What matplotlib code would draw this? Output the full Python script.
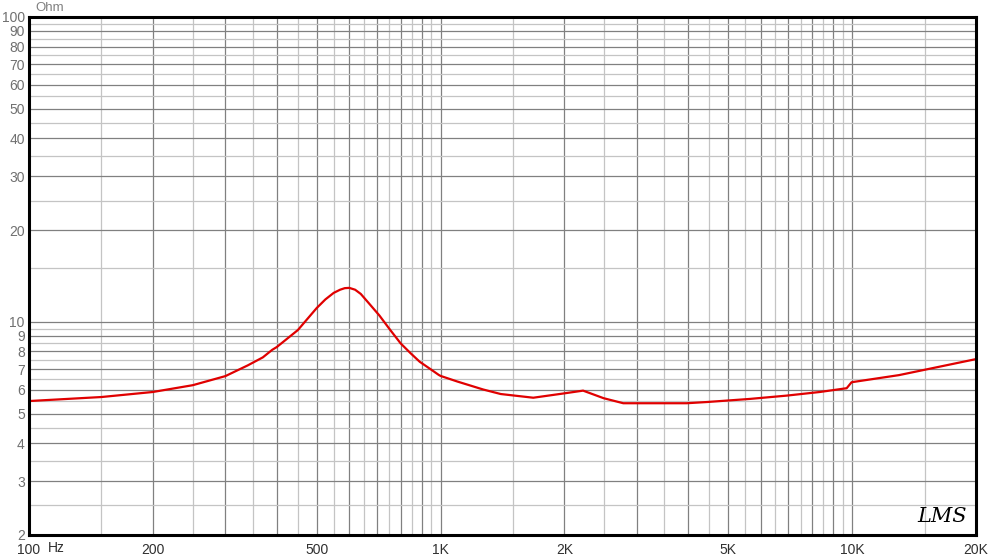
import matplotlib

matplotlib.use("Agg")
import matplotlib.pyplot as plt
import numpy as np
from matplotlib.ticker import FixedLocator, FuncFormatter, NullFormatter

# Impedance curve (Hz, Ohm)
freq = [100, 150, 200, 250, 300, 340, 370, 390, 400, 450, 500, 525, 550,
        570, 585, 600, 620, 640, 670, 710, 755, 800, 845, 890, 945, 990,
        1000, 1100, 1270, 1400, 1680, 2000, 2220, 2490, 2780, 3960, 4440,
        5650, 6930, 8350, 9700, 9970, 13000, 20000]
ohm = [5.50, 5.67, 5.89, 6.2, 6.64, 7.2, 7.65, 8.1, 8.27, 9.4, 11.1, 11.85,
       12.45, 12.75, 12.9, 12.93, 12.75, 12.35, 11.5, 10.5, 9.4, 8.5, 7.9,
       7.4, 7.0, 6.7, 6.65, 6.37, 6.0, 5.8, 5.64, 5.83, 5.95, 5.62, 5.41,
       5.41, 5.46, 5.59, 5.73, 5.89, 6.06, 6.34, 6.69, 7.55]

x_labels = {100: "100", 200: "200", 500: "500", 1000: "1K", 2000: "2K",
            5000: "5K", 10000: "10K", 20000: "20K"}
y_labels = [2, 3, 4, 5, 6, 7, 8, 9, 10, 20, 30, 40, 50, 60, 70, 80, 90, 100]

# grid: dark lines on 1-2-3..9 steps, light ones on the half steps
x_major = [d * m for d in (100, 1000, 10000) for m in range(1, 10) if d * m <= 20000]
x_minor = [d * (m + 0.5) for d in (100, 1000, 10000) for m in range(1, 10) if d * (m + 0.5) < 20000]
y_major = [d * m for d in (1, 10) for m in range(1, 10) if 2 <= d * m <= 100] + [100]
y_minor = [d * (m + 0.5) for d in (1, 10) for m in range(1, 10) if 2 < d * (m + 0.5) < 100]

plt.rcParams["font.family"] = ["Liberation Sans", "DejaVu Sans"]

fig = plt.figure(figsize=(9.95, 5.58), dpi=100)
ax = fig.add_axes([29 / 995, 23 / 558, 947 / 995, 518 / 558])

ax.set_xscale("log")
ax.set_yscale("log")
ax.set_xlim(100, 20000)
ax.set_ylim(2, 100)

ax.xaxis.set_major_locator(FixedLocator(x_major))
ax.xaxis.set_minor_locator(FixedLocator(x_minor))
ax.yaxis.set_major_locator(FixedLocator(y_major))
ax.yaxis.set_minor_locator(FixedLocator(y_minor))
ax.xaxis.set_major_formatter(FuncFormatter(lambda v, p: x_labels.get(int(round(v)), "")))
ax.yaxis.set_major_formatter(FuncFormatter(lambda v, p: f"{int(round(v))}" if int(round(v)) in y_labels else ""))
ax.xaxis.set_minor_formatter(NullFormatter())
ax.yaxis.set_minor_formatter(NullFormatter())

ax.tick_params(which="both", length=0)
ax.tick_params(axis="x", pad=6, labelsize=10, labelcolor="#303030")
ax.tick_params(axis="y", pad=3, labelsize=10, labelcolor="#707070")

ax.grid(which="major", color="#808080", linewidth=0.9)
ax.grid(which="minor", color="#c4c4c4", linewidth=0.9)
ax.set_axisbelow(True)

for s in ax.spines.values():
    s.set_linewidth(2.2)
    s.set_color("black")

ax.plot(freq, ohm, color="#e00000", linewidth=1.6)

fig.text(48 / 995, 1 - 548 / 558, "Hz", fontsize=10, color="#303030", va="center")
fig.text(35 / 995, 1 - 8 / 558, "Ohm", fontsize=9.5, color="#808080", va="center")
fig.text(942 / 995, 1 - 516 / 558, "LMS", fontsize=15, style="italic",
         family="DejaVu Serif", color="black", ha="center", va="center")

fig.savefig("out.png", dpi=100)
